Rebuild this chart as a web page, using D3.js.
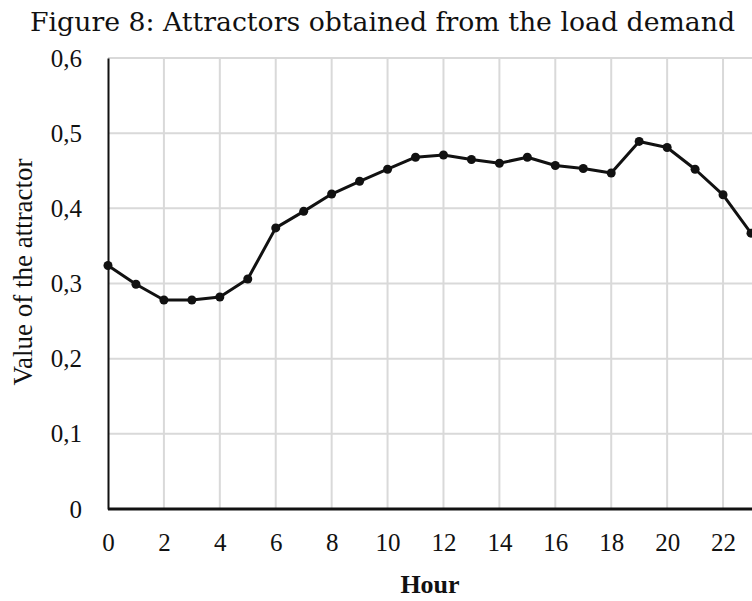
<!DOCTYPE html>
<html>
<head>
<meta charset="utf-8">
<script src="https://cdn.jsdelivr.net/npm/d3@7"></script>
<style>
  body { margin: 0; background: #fff; }
  text { fill: #111; }
</style>
</head>
<body>
<div id="chart"></div>
<script>
// values
const hours = d3.range(0, 24);
const attractor = [0.324, 0.299, 0.278, 0.278, 0.282, 0.306, 0.374, 0.396, 0.419, 0.436,
    0.452, 0.468, 0.471, 0.465, 0.460, 0.468, 0.457, 0.453, 0.447, 0.489,
    0.481, 0.452, 0.418, 0.367];
const yTicks = [0, 0.1, 0.2, 0.3, 0.4, 0.5, 0.6];
const xTicks = [0, 2, 4, 6, 8, 10, 12, 14, 16, 18, 20, 22];
const titleText = "Figure 8: Attractors obtained from the load demand";

const width = 752, height = 601;
const margin = { top: 58, right: 1, bottom: 92, left: 108 };

const svg = d3.select("#chart").append("svg")
    .attr("width", width)
    .attr("height", height);

const x = d3.scaleLinear().domain([0, 23]).range([margin.left, width - margin.right]);
const y = d3.scaleLinear().domain([0, 0.6]).range([height - margin.bottom, margin.top]);

const fmt = d => d === 0 ? "0" : d3.format(".1f")(d).replace(".", ",");

// grid
svg.append("g")
    .selectAll("line")
    .data(yTicks.filter(d => d > 0))
    .join("line")
    .attr("x1", margin.left).attr("x2", width)
    .attr("y1", d => y(d)).attr("y2", d => y(d))
    .attr("stroke", "#d9d9d9").attr("stroke-width", 2);

svg.append("g")
    .selectAll("line")
    .data(xTicks.filter(d => d > 0))
    .join("line")
    .attr("x1", d => x(d)).attr("x2", d => x(d))
    .attr("y1", y(0.6)).attr("y2", y(0))
    .attr("stroke", "#d9d9d9").attr("stroke-width", 2);

// axes
const yAxis = svg.append("g")
    .attr("transform", `translate(${margin.left},0)`)
    .call(d3.axisLeft(y).tickValues(yTicks).tickFormat(fmt).tickSize(0).tickPadding(26));
yAxis.select(".domain").attr("stroke", "#111").attr("stroke-width", 2);
yAxis.selectAll("text")
    .attr("font-family", "Liberation Serif, serif")
    .attr("font-size", 25);

const xAxis = svg.append("g")
    .attr("transform", `translate(0,${y(0)})`)
    .call(d3.axisBottom(x).tickValues(xTicks).tickSize(0).tickPadding(24));
xAxis.select(".domain").attr("stroke", "#111").attr("stroke-width", 3)
    .attr("d", `M${margin.left},0H${width}`);
xAxis.selectAll("text")
    .attr("font-family", "Liberation Serif, serif")
    .attr("font-size", 25);

// line + markers
const line = d3.line()
    .x((d, i) => x(hours[i]))
    .y(d => y(d));

svg.append("path")
    .datum(attractor)
    .attr("fill", "none")
    .attr("stroke", "#111")
    .attr("stroke-width", 3)
    .attr("stroke-linejoin", "round")
    .attr("d", line);

svg.append("g")
    .selectAll("circle")
    .data(attractor)
    .join("circle")
    .attr("cx", (d, i) => x(hours[i]))
    .attr("cy", d => y(d))
    .attr("r", 4.5)
    .attr("fill", "#111");

// titles
svg.append("text")
    .attr("x", 30).attr("y", 31)
    .attr("font-family", "DejaVu Serif, serif")
    .attr("font-size", 26)
    .attr("textLength", 705)
    .attr("lengthAdjust", "spacingAndGlyphs")
    .text(titleText);

svg.append("text")
    .attr("transform", `translate(32,${272}) rotate(-90)`)
    .attr("text-anchor", "middle")
    .attr("font-family", "Liberation Serif, serif")
    .attr("font-size", 27)
    .text("Value of the attractor");

svg.append("text")
    .attr("x", 430).attr("y", 593)
    .attr("text-anchor", "middle")
    .attr("font-family", "Liberation Serif, serif")
    .attr("font-weight", "bold")
    .attr("font-size", 26)
    .text("Hour");
</script>
</body>
</html>
